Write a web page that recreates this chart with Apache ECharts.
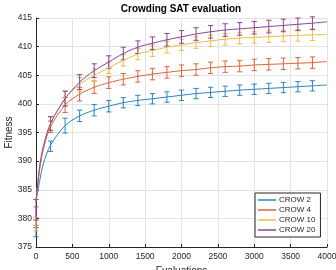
<!DOCTYPE html>
<html>
<head>
<meta charset="utf-8">
<script src="https://cdn.jsdelivr.net/npm/echarts@6/dist/echarts.min.js"></script>
<style>
  html, body { margin: 0; padding: 0; background: #fff; }
  #main { width: 336px; height: 270px; }
</style>
</head>
<body>
<div id="main"></div>
<script>
// x positions of the measured points (error bars)
var evalX = [0, 200, 400, 600, 800, 1000, 1200, 1400, 1600, 1800, 2000,
             2200, 2400, 2600, 2800, 3000, 3200, 3400, 3600, 3800];

var crow2Mean  = [377.6, 392.6, 396.2, 397.9, 398.9, 399.6, 400.2, 400.6, 400.9, 401.2, 401.5,
                  401.8, 402.0, 402.2, 402.4, 402.55, 402.7, 402.85, 403.0, 403.15];
var crow2Err   = [0.8, 0.9, 1.3, 1.0, 1.0, 1.0, 0.9, 0.9, 0.9, 0.9, 0.9,
                  0.9, 0.9, 0.9, 0.9, 0.9, 0.9, 0.9, 0.9, 0.9];
var crow4Mean  = [380.4, 396.0, 399.8, 401.7, 402.9, 403.7, 404.3, 404.8, 405.2, 405.5, 405.8,
                  406.0, 406.3, 406.5, 406.6, 406.8, 406.9, 407.0, 407.1, 407.2];
var crow4Err   = [1.6, 1.0, 1.3, 1.2, 1.1, 1.0, 1.0, 1.0, 1.0, 1.0, 1.0,
                  1.0, 1.0, 1.0, 1.0, 1.0, 1.0, 1.0, 1.0, 1.0];
var crow10Mean = [379.0, 396.5, 401.0, 403.4, 405.0, 406.3, 407.6, 408.7, 409.3, 409.9, 410.3,
                  410.7, 411.0, 411.3, 411.5, 411.6, 411.75, 411.85, 411.95, 412.05];
var crow10Err  = [1.2, 1.2, 1.3, 1.2, 1.1, 1.0, 1.0, 1.0, 1.0, 1.0, 1.0,
                  1.0, 1.0, 1.0, 1.0, 1.0, 1.0, 1.0, 1.0, 1.0];
var crow20Mean = [381.5, 396.6, 400.9, 403.8, 405.8, 407.3, 408.8, 409.9, 410.6, 411.2, 411.7,
                  412.2, 412.6, 412.9, 413.1, 413.3, 413.5, 413.7, 413.9, 414.1];
var crow20Err  = [1.8, 1.2, 1.3, 1.3, 1.2, 1.1, 1.1, 1.1, 1.1, 1.1, 1.1,
                  1.1, 1.1, 1.1, 1.1, 1.1, 1.1, 1.1, 1.1, 1.1];

// fitted curves (drawn as lines)
var fitX = [0, 50, 100, 200, 400, 600, 800, 1000, 1200, 1400, 1600, 1800, 2000,
            2200, 2400, 2600, 2800, 3000, 3200, 3400, 3600, 3800, 4000];
var crow2Fit  = [383.0, 386.5, 389.5, 392.8, 396.2, 397.9, 398.9, 399.6, 400.2, 400.6, 400.9, 401.2, 401.5,
                 401.8, 402.0, 402.2, 402.4, 402.55, 402.7, 402.85, 403.0, 403.15, 403.3];
var crow4Fit  = [383.0, 388.5, 392.0, 396.0, 399.8, 401.7, 402.9, 403.7, 404.3, 404.8, 405.2, 405.5, 405.8,
                 406.0, 406.3, 406.5, 406.6, 406.8, 406.9, 407.0, 407.1, 407.2, 407.4];
var crow10Fit = [383.0, 389.0, 392.5, 396.5, 401.0, 403.4, 405.0, 406.3, 407.6, 408.7, 409.3, 409.9, 410.3,
                 410.7, 411.0, 411.3, 411.5, 411.6, 411.75, 411.85, 411.95, 412.05, 412.15];
var crow20Fit = [383.0, 389.0, 392.5, 396.6, 400.9, 403.8, 405.8, 407.3, 408.8, 409.9, 410.6, 411.2, 411.7,
                 412.2, 412.6, 412.9, 413.1, 413.3, 413.5, 413.7, 413.9, 414.1, 414.35];

var names  = ['CROW 2', 'CROW 4', 'CROW 10', 'CROW 20'];
var colors = ['#2a84c4', '#d9663a', '#ecbc45', '#8a4598'];
var means  = [crow2Mean, crow4Mean, crow10Mean, crow20Mean];
var errs   = [crow2Err, crow4Err, crow10Err, crow20Err];
var fits   = [crow2Fit, crow4Fit, crow10Fit, crow20Fit];

var textColor = '#262626';
var font = 'Liberation Sans, Arial, sans-serif';

function errorBarRender(params, api) {
  var x = api.value(0);
  var p1 = api.coord([x, api.value(1)]);
  var p2 = api.coord([x, api.value(2)]);
  var hw = 2.6;
  var style = { stroke: api.visual('color'), lineWidth: 1 };
  return {
    type: 'group',
    children: [
      { type: 'line', shape: { x1: p1[0], y1: p1[1], x2: p2[0], y2: p2[1] }, style: style },
      { type: 'line', shape: { x1: p1[0] - hw, y1: p1[1], x2: p1[0] + hw, y2: p1[1] }, style: style },
      { type: 'line', shape: { x1: p2[0] - hw, y1: p2[1], x2: p2[0] + hw, y2: p2[1] }, style: style }
    ]
  };
}

var series = [];
names.forEach(function (n, k) {
  series.push({
    name: n,
    type: 'line',
    data: fitX.map(function (x, i) { return [x, fits[k][i]]; }),
    showSymbol: false,
    symbol: 'none',
    smooth: 0.3,
    lineStyle: { width: 1, color: colors[k] },
    itemStyle: { color: colors[k] },
    z: 3
  });
});
names.forEach(function (n, k) {
  series.push({
    name: n + ' err',
    type: 'custom',
    renderItem: errorBarRender,
    itemStyle: { color: colors[k] },
    data: evalX.map(function (x, i) {
      return [x, means[k][i] - errs[k][i], means[k][i] + errs[k][i]];
    }),
    z: 2
  });
});

var myChart = echarts.init(document.getElementById('main'), null, { renderer: 'canvas' });
var option = {
  animation: false,
  backgroundColor: '#fff',
  textStyle: { fontFamily: font },
  title: {
    text: 'Crowding SAT evaluation',
    left: 181,
    textAlign: 'center',
    top: 4.5,
    padding: 0,
    textStyle: { fontSize: 10, fontWeight: 'bold', color: '#000', fontFamily: font }
  },
  grid: { left: 36, right: 9, top: 18, bottom: 23, outerBoundsMode: 'none', containLabel: false },
  legend: {
    data: names,
    orient: 'vertical',
    left: 255,
    top: 193,
    icon: 'rect',
    itemWidth: 18,
    itemHeight: 1.5,
    itemGap: 2,
    padding: [3, 5, 3, 3],
    borderColor: textColor,
    borderWidth: 1,
    backgroundColor: '#fff',
    textStyle: { fontSize: 8, color: textColor, fontFamily: font, padding: [0, 0, 0, -2] }
  },
  xAxis: {
    type: 'value',
    min: 0, max: 4000, interval: 500,
    name: 'Evaluations',
    nameLocation: 'middle',
    nameGap: 19,
    nameMoveOverlap: false,
    nameTextStyle: { fontSize: 10, color: textColor },
    axisLine: { lineStyle: { color: textColor, width: 1 } },
    axisTick: { inside: true, length: 3, lineStyle: { color: textColor } },
    axisLabel: { fontSize: 8.5, color: textColor, margin: 5, formatter: function (v) { return String(v); } },
    splitLine: { lineStyle: { color: '#e3e3e3', width: 1 } }
  },
  yAxis: {
    type: 'value',
    min: 375, max: 415, interval: 5,
    name: 'Fitness',
    nameLocation: 'middle',
    nameGap: 22,
    nameMoveOverlap: false,
    nameTextStyle: { fontSize: 10, color: textColor },
    axisLine: { show: true, lineStyle: { color: textColor, width: 1 } },
    axisTick: { show: true, inside: true, length: 3, lineStyle: { color: textColor } },
    axisLabel: { fontSize: 8.5, color: textColor, margin: 4, formatter: function (v) { return String(v); } },
    splitLine: { lineStyle: { color: '#e3e3e3', width: 1 } }
  },
  series: series
};
myChart.setOption(option);
</script>
</body>
</html>
